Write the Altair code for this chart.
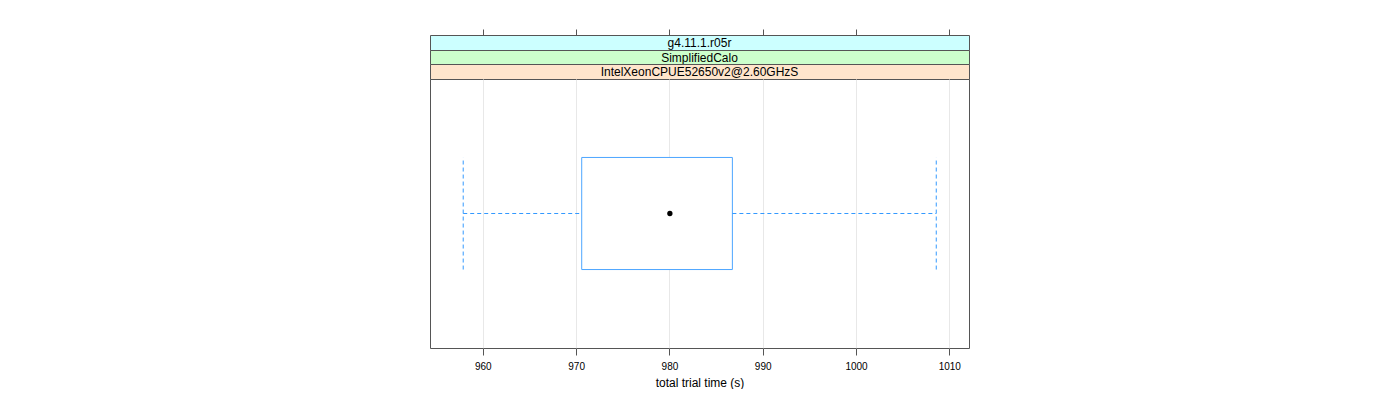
import altair as alt
import pandas as pd

# ---- data ----
strip_labels = ["g4.11.1.r05r", "SimplifiedCalo", "IntelXeonCPUE52650v2@2.60GHzS"]
strip_colors = ["#ccffff", "#ccffcc", "#ffe5cc"]
tick_values = [960, 970, 980, 990, 1000, 1010]
x_domain = [954.34, 1012.11]

whisker_low = [957.9]
q1 = [970.6]
median = [980.05]
q3 = [986.75]
whisker_high = [1008.6]
box_pos = [1]
box_half = [0.25]

W = 539
MAIN_H = 269
STRIP_H = [15, 14, 15]
FRAME = "#555555"
BOX_COL = "#4da6ff"
DASH_COL = "#3399ff"
FONT = "Liberation Sans"

xscale = alt.Scale(domain=x_domain, nice=False, zero=False)
yscale = alt.Scale(domain=[0.4, 1.6], nice=False, zero=False)

df = pd.DataFrame({
    "low": whisker_low, "q1": q1, "med": median, "q3": q3,
    "high": whisker_high, "pos": box_pos, "half": box_half,
})

ticks_df = pd.DataFrame({"t": tick_values})


def strip(i, with_axis=False):
    d = pd.DataFrame({"label": [strip_labels[i]]})
    h = STRIP_H[i]
    txt = alt.Chart(d).mark_text(fontSize=12, font=FONT, baseline="middle",
                                 align="center", color="black").encode(
        text="label:N", x=alt.value(W / 2), y=alt.value(h / 2 + 0.5))
    layers = [txt]
    if with_axis:
        ax = alt.Chart(ticks_df).mark_rule(opacity=0).encode(
            x=alt.X("t:Q", scale=xscale,
                    axis=alt.Axis(orient="top", values=tick_values, labels=False,
                                  ticks=True, tickSize=6, domain=False, grid=False,
                                  title=None, tickColor=FRAME)))
        layers = [ax, txt]
    return alt.layer(*layers).properties(
        width=W, height=h,
        view=alt.ViewBackground(fill=strip_colors[i], stroke=FRAME, strokeWidth=1))


base = alt.Chart(df).transform_calculate(
    lo="datum.pos - datum.half", hi="datum.pos + datum.half")

xaxis = alt.Axis(values=tick_values, format="d", tickSize=7, labelFontSize=10,
                 labelPadding=6, title="total trial time (s)", titleFontSize=12,
                 titleFontWeight="normal", titlePadding=6, grid=True,
                 gridColor="#e8e8e8", domain=False, tickColor=FRAME,
                 labelColor="black", titleColor="black", labelFont=FONT,
                 titleFont=FONT)

box = base.mark_rect(fill="white", stroke=BOX_COL, strokeWidth=1).encode(
    x=alt.X("q1:Q", scale=xscale, axis=xaxis), x2="q3:Q",
    y=alt.Y("lo:Q", scale=yscale, axis=None), y2="hi:Q")

wl = base.mark_rule(color=DASH_COL, strokeDash=[4, 3], strokeWidth=1).encode(
    x="low:Q", x2="q1:Q", y=alt.Y("pos:Q", scale=yscale, axis=None))
wh = base.mark_rule(color=DASH_COL, strokeDash=[4, 3], strokeWidth=1).encode(
    x="q3:Q", x2="high:Q", y=alt.Y("pos:Q", scale=yscale, axis=None))
cl = base.mark_rule(color=DASH_COL, strokeDash=[4, 3], strokeWidth=1).encode(
    x="low:Q", y=alt.Y("lo:Q", scale=yscale, axis=None), y2="hi:Q")
ch = base.mark_rule(color=DASH_COL, strokeDash=[4, 3], strokeWidth=1).encode(
    x="high:Q", y=alt.Y("lo:Q", scale=yscale, axis=None), y2="hi:Q")
dot = base.mark_circle(color="black", size=28, opacity=1).encode(
    x="med:Q", y=alt.Y("pos:Q", scale=yscale, axis=None))

main = alt.layer(box, wl, wh, cl, ch, dot).properties(
    width=W, height=MAIN_H,
    view=alt.ViewBackground(fill="white", stroke=FRAME, strokeWidth=1))

chart = alt.vconcat(strip(0, True), strip(1), strip(2), main,
                    spacing=0, bounds="flush").properties(
    padding={"left": 429, "top": 28, "right": 0, "bottom": 0},
    background="white",
).configure_view(stroke=FRAME).configure_concat(spacing=0)

chart.save("out.html", embed_options={"renderer": "svg", "actions": False})
